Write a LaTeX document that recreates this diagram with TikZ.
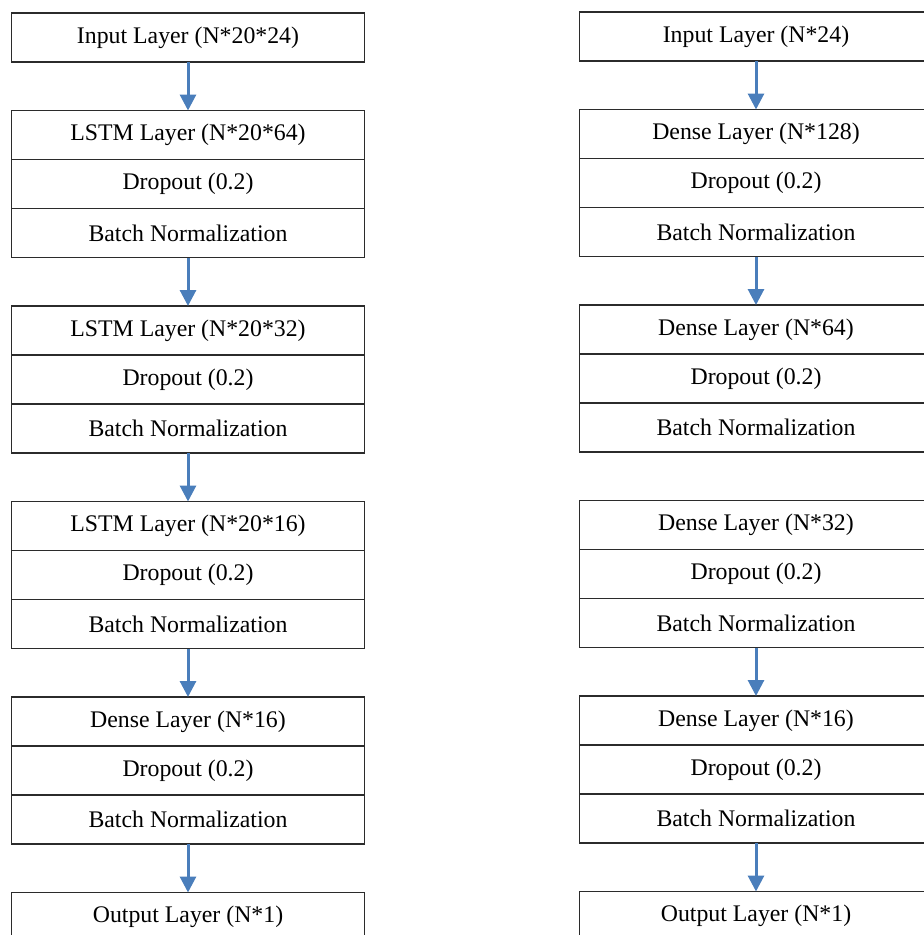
\documentclass[tikz,border=0pt]{standalone}
\usepackage{fontspec}
\setmainfont{Liberation Serif}
\usetikzlibrary{arrows.meta,positioning}
\definecolor{arrblue}{HTML}{4A7EBB}
\definecolor{edge}{HTML}{2B2B2B}

\begin{document}
\begin{tikzpicture}[x=1pt,y=1pt,font=\fontsize{23.8pt}{28pt}\selectfont,
  lay/.style={draw=edge,line width=1.2pt,minimum width=353pt,minimum height=49pt,inner sep=0pt,outer sep=0pt,anchor=north},
  row/.style={lay,below=0pt of #1},
  blk/.style={lay,below=48.5pt of #1},
  arr/.style={-{Triangle[width=16pt,length=16pt]},line width=3pt,arrblue}]
\path[use as bounding box] (0,0) rectangle (924,-935);
\clip (0,0) rectangle (924,-935);
% left column
\node[lay] (in1) at (188,-13) {Input Layer (N*20*24)};
\node[blk=in1] (l1) {LSTM Layer (N*20*64)};
\node[row=l1] (d1) {Dropout (0.2)};
\node[row=d1] (bn1) {Batch Normalization};
\node[blk=bn1] (l2) {LSTM Layer (N*20*32)};
\node[row=l2] (d2) {Dropout (0.2)};
\node[row=d2] (bn2) {Batch Normalization};
\node[blk=bn2] (l3) {LSTM Layer (N*20*16)};
\node[row=l3] (d3) {Dropout (0.2)};
\node[row=d3] (bn3) {Batch Normalization};
\node[blk=bn3] (de4) {Dense Layer (N*16)};
\node[row=de4] (d4) {Dropout (0.2)};
\node[row=d4] (bn4) {Batch Normalization};
\node[blk=bn4] (out1) {Output Layer (N*1)};
\draw[arr] (in1)--(l1);
\draw[arr] (bn1)--(l2);
\draw[arr] (bn2)--(l3);
\draw[arr] (bn3)--(de4);
\draw[arr] (bn4)--(out1);
% right column
\node[lay] (in2) at (756,-12) {Input Layer (N*24)};
\node[blk=in2] (r1) {Dense Layer (N*128)};
\node[row=r1] (rd1) {Dropout (0.2)};
\node[row=rd1] (rbn1) {Batch Normalization};
\node[blk=rbn1] (r2) {Dense Layer (N*64)};
\node[row=r2] (rd2) {Dropout (0.2)};
\node[row=rd2] (rbn2) {Batch Normalization};
\node[blk=rbn2] (r3) {Dense Layer (N*32)};
\node[row=r3] (rd3) {Dropout (0.2)};
\node[row=rd3] (rbn3) {Batch Normalization};
\node[blk=rbn3] (r4) {Dense Layer (N*16)};
\node[row=r4] (rd4) {Dropout (0.2)};
\node[row=rd4] (rbn4) {Batch Normalization};
\node[blk=rbn4] (out2) {Output Layer (N*1)};
\draw[arr] (in2)--(r1);
\draw[arr] (rbn1)--(r2);
\draw[arr] (rbn3)--(r4);
\draw[arr] (rbn4)--(out2);
\end{tikzpicture}
\end{document}
